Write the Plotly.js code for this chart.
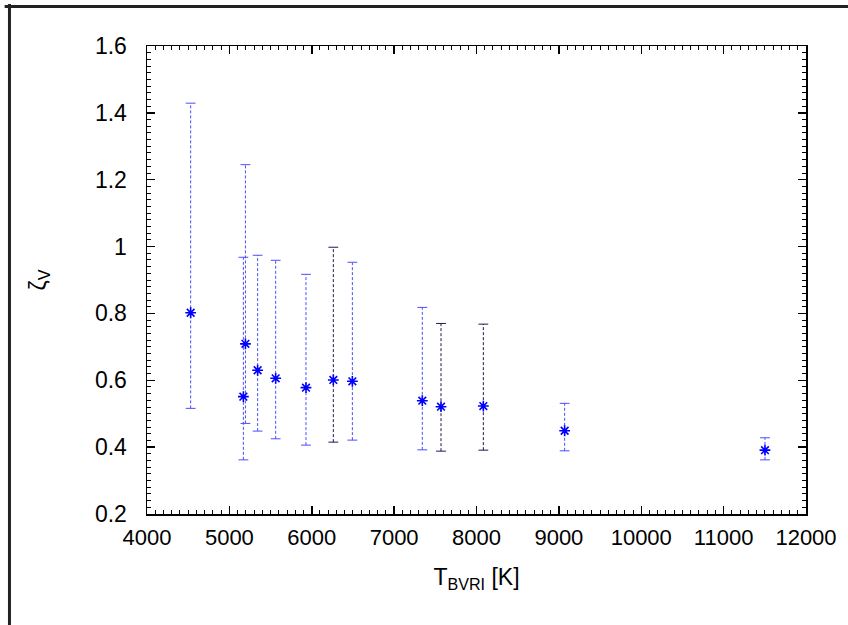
<!DOCTYPE html>
<html>
<head>
<meta charset="utf-8">
<script src="https://cdn.plot.ly/plotly-3.0.1.min.js"></script>
<style>html,body{margin:0;padding:0;background:#fff;}#chart{width:848px;height:625px;}</style>
</head>
<body>
<div id="chart"></div>
<script>
// Data
var temperature = [4530, 5170, 5195, 5343, 5562, 5930, 6262, 6493, 7342, 7569, 8083, 9070, 11502];
var zeta        = [0.802, 0.551, 0.709, 0.630, 0.606, 0.578, 0.601, 0.597, 0.539, 0.521, 0.523, 0.449, 0.391];
var zetaLow     = [0.516, 0.362, 0.471, 0.448, 0.425, 0.406, 0.415, 0.421, 0.392, 0.388, 0.391, 0.389, 0.362];
var zetaHigh    = [1.429, 0.968, 1.245, 0.974, 0.959, 0.917, 0.998, 0.953, 0.818, 0.770, 0.768, 0.531, 0.428];
var darkBar     = [false, false, false, false, false, false, true, false, false, true, true, false, false];
var xTickVals = [4000, 5000, 6000, 7000, 8000, 9000, 10000, 11000, 12000];
var xTickText = ['4000', '5000', '6000', '7000', '8000', '9000', '10000', '11000', '12000'];
var yTickVals = [0.2, 0.4, 0.6, 0.8, 1.0, 1.2, 1.4, 1.6];
var yTickText = ['0.2', '0.4', '0.6', '0.8', '1', '1.2', '1.4', '1.6'];

var blue = '#0000ff';
var lightBar = '#4d4dff';
var darkBarColor = '#1a1a55';

function barTrace(dark) {
  var xs = [], ys = [];
  for (var i = 0; i < temperature.length; i++) {
    if (darkBar[i] !== dark) continue;
    xs.push(temperature[i], temperature[i], null);
    ys.push(zetaLow[i], zetaHigh[i], null);
  }
  return {
    x: xs, y: ys, type: 'scatter', mode: 'lines', hoverinfo: 'skip', showlegend: false,
    line: {color: dark ? darkBarColor : lightBar, width: 1, dash: '3px,2px'}
  };
}
function capTrace(dark) {
  var xs = [], ys = [];
  for (var i = 0; i < temperature.length; i++) {
    if (darkBar[i] !== dark) continue;
    xs.push(temperature[i], temperature[i]);
    ys.push(zetaLow[i], zetaHigh[i]);
  }
  var c = dark ? darkBarColor : lightBar;
  return {
    x: xs, y: ys, type: 'scatter', mode: 'markers', hoverinfo: 'skip', showlegend: false,
    marker: {symbol: 'line-ew-open', size: 7, color: c, line: {color: c, width: 1}}
  };
}

var traces = [
  barTrace(false), barTrace(true), capTrace(false), capTrace(true),
  {
    x: temperature, y: zeta, type: 'scatter', mode: 'markers', showlegend: false,
    marker: {symbol: 'asterisk-open', size: 9, color: blue, line: {color: blue, width: 1.6}}
  }
];

var axisCommon = {
  showgrid: false, zeroline: false, showline: true, linecolor: '#000', linewidth: 1.5,
  mirror: 'allticks', ticks: 'inside', ticklen: 8, tickwidth: 1.5, tickcolor: '#000'
};

var layout = {
  width: 848, height: 625,
  margin: {l: 147, r: 42, t: 46, b: 111},
  paper_bgcolor: '#fff', plot_bgcolor: '#fff',
  font: {family: 'Liberation Sans, Arial, sans-serif', color: '#000', size: 22},
  xaxis: Object.assign({}, axisCommon, {
    range: [4000, 12000], tickmode: 'array', tickvals: xTickVals, ticktext: xTickText,
    tickfont: {size: 22}, ticklabelstandoff: 3,
    minor: {dtick: 100, ticks: 'inside', ticklen: 4, tickwidth: 1, tickcolor: '#000'},
    title: {text: 'T<sub>BVRI</sub> [K]', font: {size: 23}, standoff: 20}
  }),
  yaxis: Object.assign({}, axisCommon, {
    range: [0.2, 1.6], tickmode: 'array', tickvals: yTickVals, ticktext: yTickText,
    tickfont: {size: 23}, ticklabelstandoff: 14,
    minor: {dtick: 0.02, ticks: 'inside', ticklen: 4, tickwidth: 1, tickcolor: '#000'},
    title: {text: 'ζ<sub>V</sub>', font: {size: 23}, standoff: 42}
  }),
  shapes: [
    {type: 'line', xref: 'paper', yref: 'paper', x0: -0.216, x1: 1.07, y0: 1.0844, y1: 1.0844, line: {color: '#222', width: 3}},
    {type: 'line', xref: 'paper', yref: 'paper', x0: -0.2087, x1: -0.2087, y0: 1.09, y1: -0.25, line: {color: '#222', width: 3}}
  ]
};

Plotly.newPlot('chart', traces, layout, {staticPlot: true, displayModeBar: false});
</script>
</body>
</html>
